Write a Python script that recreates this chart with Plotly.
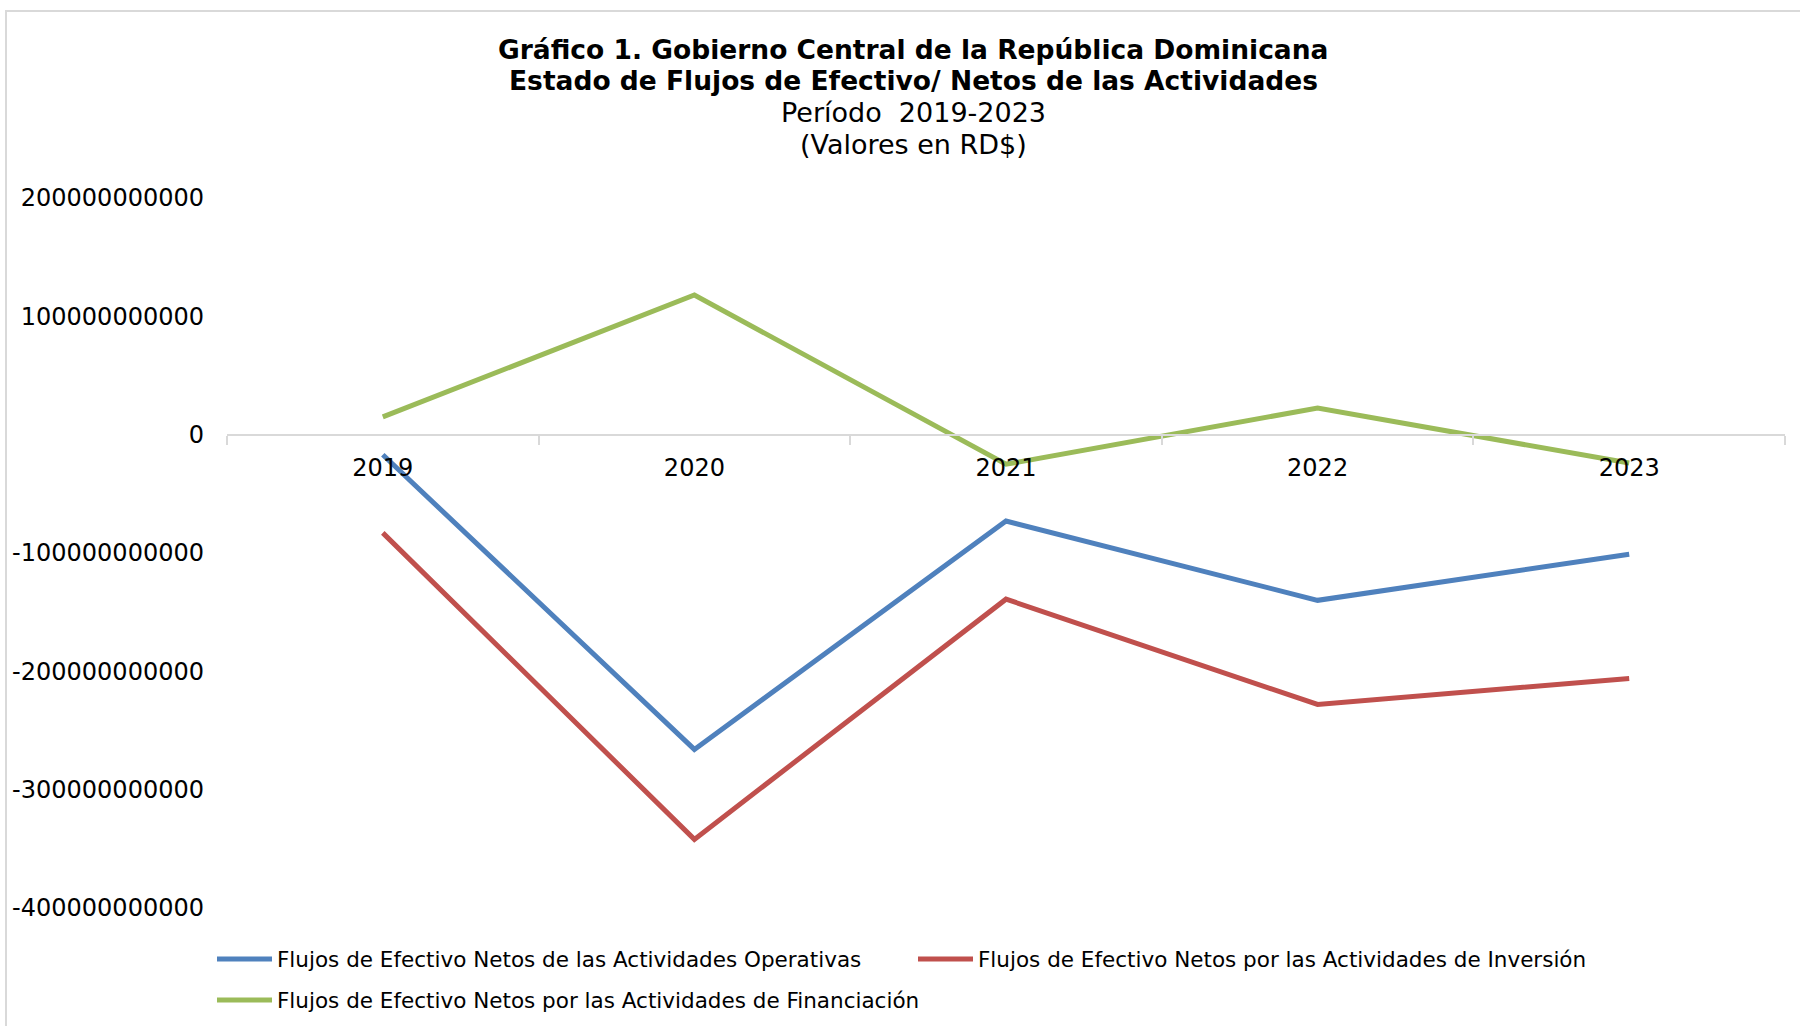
import plotly.graph_objects as go

years = ["2019", "2020", "2021", "2022", "2023"]
operativas = [-17e9, -266e9, -73e9, -140e9, -101e9]
inversion = [-83e9, -342e9, -139e9, -228e9, -206e9]
financiacion = [15e9, 118e9, -25e9, 22.5e9, -24e9]

series_names = [
    "Flujos de Efectivo Netos de las Actividades Operativas",
    "Flujos de Efectivo Netos por las Actividades de Inversión",
    "Flujos de Efectivo Netos por las Actividades de Financiación",
]
colors = ["#4F81BD", "#C0504D", "#9BBB59"]

y_tickvals = [200e9, 100e9, 0, -100e9, -200e9, -300e9, -400e9]
y_ticktext = ["200000000000", "100000000000", "0", "-100000000000",
              "-200000000000", "-300000000000", "-400000000000"]

title_lines = [
    ("<b>Gráfico 1. Gobierno Central de la República Dominicana</b>", 26.5),
    ("<b>Estado de Flujos de Efectivo/ Netos de las Actividades</b>", 26.5),
    ("Período&nbsp;&nbsp;2019-2023", 27),
    ("(Valores en RD$)", 27),
]

FONT = "DejaVu Sans"
W, H = 1800, 1026
L, R, T, B = 227, 15, 198, 118
pw, ph = W - L - R, H - T - B


def px_x(x):
    return (x - L) / pw


def px_y(y):
    return 1 - (y - T) / ph


fig = go.Figure()
for i, (name, vals, col) in enumerate(zip(series_names, [operativas, inversion, financiacion], colors)):
    fig.add_trace(go.Scatter(x=years, y=vals, mode="lines", name=name,
                             line=dict(color=col, width=5), cliponaxis=False,
                             legend="legend" if i < 2 else "legend2"))

title_y = [49.4, 80.6, 112.6, 144.8]
for (txt, fs), yc in zip(title_lines, title_y):
    fig.add_annotation(text=txt, xref="paper", yref="paper", x=px_x(913), y=px_y(yc),
                       xanchor="center", yanchor="middle", showarrow=False,
                       font=dict(family=FONT, size=fs, color="black"))

legend_common = dict(orientation="h", xref="container", yref="container",
                     xanchor="left", yanchor="top", font=dict(size=21.5),
                     itemwidth=55, traceorder="normal", bgcolor="rgba(0,0,0,0)")

fig.update_layout(
    width=W, height=H,
    margin=dict(l=L, r=R, t=T, b=B, autoexpand=False),
    paper_bgcolor="white", plot_bgcolor="white",
    font=dict(family=FONT, color="black", size=24),
    xaxis=dict(
        type="category", range=[-0.5, 4.5],
        anchor="free", position=400 / 600,
        showline=True, linecolor="#D9D9D9", linewidth=2,
        ticks="outside", tickson="boundaries", ticklen=9, tickcolor="#D9D9D9", tickwidth=2,
        showgrid=False, zeroline=False,
        tickfont=dict(size=24), ticklabelstandoff=12,
    ),
    yaxis=dict(
        range=[-400e9, 200e9], tickvals=y_tickvals, ticktext=y_ticktext,
        showgrid=False, zeroline=False, showline=False, ticks="",
        tickfont=dict(size=24), ticklabelstandoff=22,
    ),
    legend=dict(x=212 / W, y=1 - 938.5 / H, entrywidth=631, entrywidthmode="pixels",
                **legend_common),
    legend2=dict(x=212 / W, y=1 - 979.5 / H, **legend_common),
    showlegend=True,
)

# chart border (light gray) at top and left
fig.add_shape(type="rect", xref="paper", yref="paper",
              x0=px_x(6), x1=px_x(W + 10),
              y0=px_y(H + 10), y1=px_y(11),
              line=dict(color="#D9D9D9", width=2), fillcolor="rgba(0,0,0,0)", layer="below")

fig.write_html("out.html", config={"displayModeBar": False},
               post_script="document.body.style.margin='0';")
